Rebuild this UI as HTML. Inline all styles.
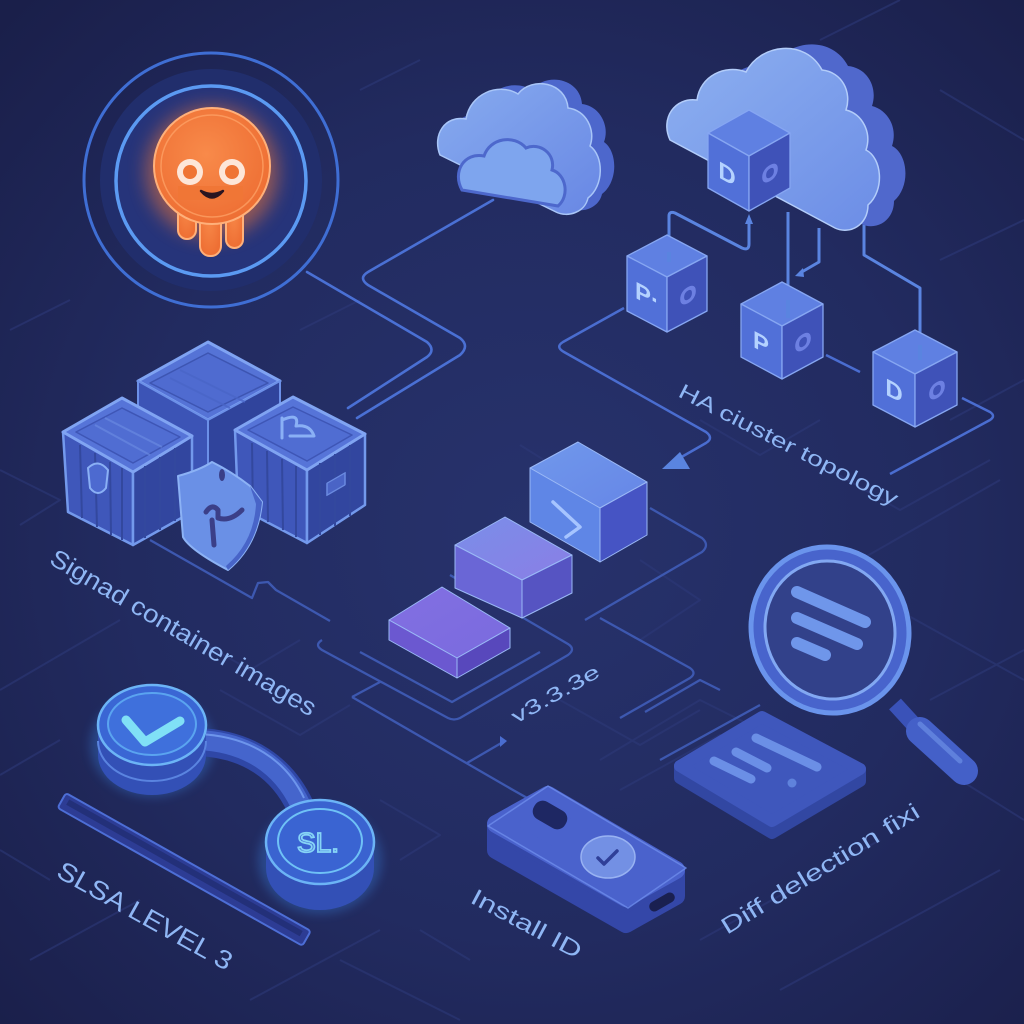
<!DOCTYPE html>
<html><head><meta charset="utf-8"><style>
html,body{margin:0;padding:0;background:#1e2554;}
svg{display:block;}
text{font-family:"Liberation Sans",sans-serif;}
</style></head><body>
<svg width="1024" height="1024" viewBox="0 0 1024 1024" xmlns="http://www.w3.org/2000/svg">
<defs>
<radialGradient id="bg" cx="52%" cy="52%" r="72%">
<stop offset="0" stop-color="#27326c"/>
<stop offset="0.55" stop-color="#222b60"/>
<stop offset="1" stop-color="#1a1f4a"/>
</radialGradient>
<filter id="glow" x="-60%" y="-60%" width="220%" height="220%"><feGaussianBlur stdDeviation="9"/></filter>
<filter id="glow2" x="-60%" y="-60%" width="220%" height="220%"><feGaussianBlur stdDeviation="5"/></filter>
<linearGradient id="cloudBig" x1="0" y1="0" x2="1" y2="1">
<stop offset="0" stop-color="#8db0f0"/><stop offset="1" stop-color="#6c8de6"/>
</linearGradient>
<linearGradient id="cloudSm" x1="0" y1="0" x2="1" y2="1">
<stop offset="0" stop-color="#87abef"/><stop offset="1" stop-color="#6887e4"/>
</linearGradient>
<linearGradient id="stepTop1" x1="0" y1="0" x2="1" y2="1">
<stop offset="0" stop-color="#7098ec"/><stop offset="1" stop-color="#6686e6"/>
</linearGradient>
<linearGradient id="stepTop2" x1="0" y1="0" x2="1" y2="1">
<stop offset="0" stop-color="#7a8ee8"/><stop offset="1" stop-color="#8a7ee6"/>
</linearGradient>
<linearGradient id="stepTop3" x1="0" y1="0" x2="1" y2="1">
<stop offset="0" stop-color="#8270e2"/><stop offset="1" stop-color="#7a6ade"/>
</linearGradient>
<radialGradient id="octo" cx="45%" cy="40%" r="60%">
<stop offset="0" stop-color="#f88a4a"/><stop offset="1" stop-color="#ee6f34"/>
</radialGradient>
</defs>
<rect width="1024" height="1024" fill="url(#bg)"/>

<!-- faint background lines -->
<g stroke="#2d3978" stroke-width="2" fill="none" opacity="0.6" stroke-linejoin="round">
<path d="M0,690 L120,620"/>
<path d="M0,470 L60,500 L20,525"/>
<path d="M10,330 L70,300"/>
<path d="M30,960 L140,900"/>
<path d="M0,850 L50,880"/>
<path d="M340,960 L460,1020"/>
<path d="M250,1000 L380,930"/>
<path d="M600,760 L700,700 L760,730"/>
<path d="M620,790 L720,735 L780,770"/>
<path d="M700,940 L880,840"/>
<path d="M780,990 L1000,870"/>
<path d="M880,600 L1024,680"/>
<path d="M860,560 L1000,480"/>
<path d="M950,420 L1024,380"/>
<path d="M930,700 L1024,650"/>
<path d="M960,780 L1024,820"/>
<path d="M640,560 L700,600 L640,640"/>
<path d="M560,470 L520,445"/>
<path d="M820,40 L900,0"/>
<path d="M940,90 L1024,140"/>
<path d="M940,260 L1024,220"/>
<path d="M360,90 L420,60"/>
<path d="M300,330 L360,300"/>
<path d="M700,420 L760,455 L820,420"/>
<path d="M830,470 L900,510 L990,460"/>
<path d="M560,700 L640,745 L700,710"/>
<path d="M180,630 L250,670 L300,640"/>
<path d="M220,690 L300,735 L350,705"/>
<path d="M60,740 L0,775"/>
<path d="M380,800 L440,835 L400,860"/>
<path d="M420,930 L470,960"/>
</g>

<!-- octopus circle connectors -->
<g stroke="#4a70d4" stroke-width="2.6" fill="none" stroke-linejoin="round" stroke-linecap="round">
<path d="M307,272 L427,342 Q436,350 427,357 L348,408"/>
<path d="M493,200 L368,272 Q358,278 368,285 L460,338 Q470,346 460,355 L357,418"/>
</g>

<!-- cluster connectors -->
<g stroke="#5a84e0" stroke-width="3" fill="none" stroke-linejoin="round">
<path d="M669,252 L669,216 Q669,211 675,213 L742,248 Q749,251 749,244 L749,222"/>
<path d="M788,212 L788,300"/>
<path d="M819,228 L819,262 L800,273"/>
<path d="M864,225 L864,255 L920,288 L920,345"/>
</g>
<path d="M749,214 L745,224 L753,224 Z" fill="#5a84e0"/>
<path d="M795,276 L803,268 L804,277 Z" fill="#5a84e0"/>
<g stroke="#4a6dd0" stroke-width="2.5" fill="none" stroke-linejoin="round">
<path d="M624,308 L563,342 Q555,347 564,352 L706,432 Q714,438 706,443 L678,459"/>
<path d="M962,398 L990,412 Q996,416 990,420 L890,474"/>
<path d="M826,355 L860,372"/>
</g>
<path d="M662,469 L690,469 L680,452 Z" fill="#5a84e0"/>

<!-- lower connectors / platforms -->
<g stroke="#3d58b0" stroke-width="2.3" fill="none" stroke-linejoin="round">
<path d="M150,540 L252,598 L258,583 L268,582 L276,590 L330,621"/>
<path d="M322,640 Q314,645 322,650 L448,718 Q454,721 460,718 L568,655 Q576,649 568,644 L450,575"/>
<path d="M360,652 L452,702 L540,652"/>
<path d="M352,697 L513,790 L545,808"/>
<path d="M352,697 L380,682"/>
<path d="M467,763 L503,742"/>
<path d="M650,508 L702,538 Q710,545 702,552 L585,620"/>
<path d="M600,618 L690,668 Q697,673 690,678 L620,718"/>
<path d="M645,712 L700,680 L720,690"/>
<path d="M660,760 L760,705"/>
</g>
<path d="M500,736 L507,741 L500,747 Z" fill="#4a6dd0"/>

<!-- ============ OCTOPUS RING ============ -->
<circle cx="211" cy="180" r="127" fill="none" stroke="#3f6ed4" stroke-width="3"/>
<circle cx="211" cy="180" r="111" fill="#212e6c"/>
<circle cx="211" cy="181" r="95" fill="#26347a" stroke="#5b9af2" stroke-width="3.5"/>
<!-- octopus -->
<g>
<circle cx="212" cy="172" r="66" fill="#ff7a30" opacity="0.5" filter="url(#glow)"/>
<g fill="url(#octo)" stroke="#ffb07a" stroke-width="2">
<rect x="178" y="185" width="18" height="54" rx="9"/>
<rect x="200" y="190" width="21" height="66" rx="10"/>
<rect x="226" y="185" width="17" height="63" rx="8.5"/>
<circle cx="212" cy="166" r="58"/>
</g>
<path d="M178,200 L178,186 L243,186 L243,200 Z" fill="#f07636"/>
<circle cx="212" cy="166" r="51" fill="none" stroke="#ffa56a" stroke-width="1.5" opacity="0.7"/>
<circle cx="190" cy="172" r="13" fill="#fde6d8"/>
<circle cx="190" cy="172" r="7" fill="#ef7434"/>
<circle cx="232" cy="172" r="13" fill="#fde6d8"/>
<circle cx="232" cy="172" r="7" fill="#ef7434"/>
<path d="M201,191 Q212,204 223,191 Q212,197 201,191 Z" fill="#2a1520" stroke="#2a1520" stroke-width="2.5" stroke-linejoin="round"/>
</g>

<!-- ============ SMALL CLOUD ============ -->
<g transform="translate(14,-4)">
<path d="M440,155 C432,135 445,115 466,119 C470,94 498,82 518,94 C532,76 566,82 568,108 C586,110 596,130 590,146 C604,156 604,186 588,198 C585,212 568,218 556,212 Z" fill="#4d67cc"/>
</g>
<path d="M440,155 C432,135 445,115 466,119 C470,94 498,82 518,94 C532,76 566,82 568,108 C586,110 596,130 590,146 C604,156 604,186 588,198 C585,212 568,218 556,212 Z" fill="url(#cloudSm)" stroke="#a9c6f8" stroke-width="1.5"/>
<path d="M462,190 C452,172 464,152 484,156 C490,138 514,134 526,148 C540,142 556,154 552,170 C566,174 570,196 558,206 Z" fill="#7ea5ee" stroke="#4d68cc" stroke-width="3"/>

<!-- ============ BIG CLOUD ============ -->
<g transform="translate(26,-4)">
<path d="M670,140 C660,118 675,97 697,100 C700,76 725,64 746,72 C760,44 805,38 822,70 C842,72 852,92 846,110 C862,114 872,132 866,150 C882,158 885,190 868,205 C868,225 850,235 835,228 Z" fill="#5068cc"/>
</g>
<path d="M670,140 C660,118 675,97 697,100 C700,76 725,64 746,72 C760,44 805,38 822,70 C842,72 852,92 846,110 C862,114 872,132 866,150 C882,158 885,190 868,205 C868,225 850,235 835,228 Z" fill="url(#cloudBig)" stroke="#b3cdfa" stroke-width="1.5"/>

<!-- ============ PODS ============ -->
<g stroke="#86a6f2" stroke-width="1.3" stroke-linejoin="round">
<polygon points="749,110 790,133 749,156 708,133" fill="#5f80e2"/>
<polygon points="708,133 749,156 749,211 708,188" fill="#5170d8"/>
<polygon points="749,156 790,133 790,188 749,211" fill="#3f52b8"/>
<polygon points="667,235 707,256 667,277 627,256" fill="#5f80e2"/>
<polygon points="627,256 667,277 667,332 627,311" fill="#5170d8"/>
<polygon points="667,277 707,256 707,311 667,332" fill="#3f52b8"/>
<polygon points="782,282 823,304 782,326 741,304" fill="#5f80e2"/>
<polygon points="741,304 782,326 782,379 741,357" fill="#5170d8"/>
<polygon points="782,326 823,304 823,357 782,379" fill="#3f52b8"/>
<polygon points="915,330 957,352 915,374 873,352" fill="#5f80e2"/>
<polygon points="873,352 915,374 915,427 873,405" fill="#5170d8"/>
<polygon points="915,374 957,352 957,405 915,427" fill="#3f52b8"/>
</g>
<g stroke="#5a84e0" stroke-width="4">
<line x1="788" y1="300" x2="788" y2="318"/>
<line x1="920" y1="345" x2="920" y2="360"/>
<line x1="669" y1="252" x2="669" y2="262"/>
</g>
<g font-size="24" font-weight="bold" text-anchor="middle">
<text transform="translate(727,182) skewY(29)" fill="#b4d2ff">D</text>
<text transform="translate(647,304) skewY(28)" fill="#b4d2ff">P·</text>
<text transform="translate(761,351) skewY(28)" fill="#b4d2ff">P</text>
<text transform="translate(894,399) skewY(28)" fill="#b4d2ff">D</text>
</g>
<g font-size="20" text-anchor="middle" fill="none" stroke="#6d80e2" stroke-width="2">
<text transform="translate(770,180) skewY(-29)">O</text>
<text transform="translate(688,302) skewY(-28)">O</text>
<text transform="translate(803,349) skewY(-28)">O</text>
<text transform="translate(937,397) skewY(-28)">O</text>
</g>

<!-- ============ CRATES ============ -->
<g stroke-linejoin="round">
<polygon points="208,342 280,381 208,420 138,381" fill="#5573d6" stroke="#7fa3f2" stroke-width="3"/>
<polygon points="150,383 208,353 268,383 208,412" fill="#4f6bd0" stroke="#3d55b2" stroke-width="1.5"/>
<polygon points="138,381 208,420 208,495 138,456" fill="#3c54b6" stroke="#6c90e8" stroke-width="2"/>
<polygon points="208,420 280,381 280,456 208,495" fill="#30449c" stroke="#6c90e8" stroke-width="2"/>
<g stroke="#4a66c8" stroke-width="2" opacity="0.8">
<line x1="170" y1="378" x2="230" y2="408"/><line x1="180" y1="370" x2="245" y2="402"/>
</g>
<polygon points="63,432 133,472 133,545 68,512" fill="#3f57ba" stroke="#7399ec" stroke-width="2.5"/>
<polygon points="133,472 192,436 192,512 133,545" fill="#32469f" stroke="#7399ec" stroke-width="2.5"/>
<polygon points="122,398 192,436 133,472 63,432" fill="#5674d8" stroke="#80a4f2" stroke-width="3"/>
<polygon points="122,408 180,437 133,463 76,432" fill="#506dd2" stroke="#3e56b6" stroke-width="1.5"/>
<g stroke="#33489e" stroke-width="2">
<line x1="80" y1="445" x2="82" y2="518"/><line x1="95" y1="453" x2="97" y2="527"/><line x1="110" y1="462" x2="111" y2="535"/><line x1="122" y1="468" x2="122" y2="540"/>
<line x1="145" y1="466" x2="145" y2="538"/><line x1="160" y1="457" x2="160" y2="530"/><line x1="175" y1="448" x2="175" y2="521"/>
</g>
<g stroke="#6d8ee4" stroke-width="2" opacity="0.6">
<line x1="95" y1="425" x2="150" y2="455"/><line x1="105" y1="418" x2="162" y2="447"/>
</g>
<path d="M88,468 Q98,458 108,470 L106,488 Q98,498 90,488 Z" fill="#4d6ad0" stroke="#8ab0f5" stroke-width="2"/>
<polygon points="235,430 307,470 307,543 238,507" fill="#3f57ba" stroke="#7399ec" stroke-width="2.5"/>
<polygon points="307,470 365,434 365,505 307,543" fill="#32469f" stroke="#7399ec" stroke-width="2.5"/>
<polygon points="293,397 365,434 307,470 235,430" fill="#5674d8" stroke="#80a4f2" stroke-width="3"/>
<polygon points="293,407 352,435 307,461 248,430" fill="#506dd2" stroke="#3e56b6" stroke-width="1.5"/>
<g stroke="#33489e" stroke-width="2">
<line x1="252" y1="443" x2="253" y2="514"/><line x1="267" y1="451" x2="268" y2="522"/><line x1="282" y1="459" x2="283" y2="530"/><line x1="296" y1="466" x2="296" y2="537"/>
<line x1="320" y1="463" x2="320" y2="535"/><line x1="335" y1="454" x2="335" y2="526"/><line x1="350" y1="445" x2="350" y2="516"/>
</g>
<rect x="327" y="482" width="18" height="12" fill="#4a64c6" stroke="#6a8ae0" stroke-width="1.5" transform="skewY(-30) translate(0,190)"/>
<path d="M282,418 L282,438 M282,420 Q300,412 296,426 Q310,424 314,436 L290,436" fill="none" stroke="#8ab0f5" stroke-width="3" stroke-linecap="round"/>
<path d="M178,476 Q200,470 212,462 Q232,472 250,486 L262,502 Q258,545 228,570 Q190,550 183,537 Z" fill="#6a90e6" stroke="#8cb2f5" stroke-width="2"/>
<path d="M250,486 L262,502 Q258,545 228,570 L226,566 Q254,542 256,504 Z" fill="#4864c8"/>
<ellipse cx="222" cy="475" rx="3" ry="6" fill="#3a3f88"/>
<path d="M206,512 Q212,503 218,510 L218,518 Q230,522 242,510 M212,520 L214,545" fill="none" stroke="#3b3f88" stroke-width="5" stroke-linecap="round"/>
</g>

<!-- ============ STEPS ============ -->
<g stroke-linejoin="round" stroke="#9ab8f6" stroke-width="1">
<polygon points="442,587 510,628 457,658 389,620" fill="url(#stepTop3)"/>
<polygon points="389,620 457,658 457,678 389,640" fill="#6b58d0"/>
<polygon points="457,658 510,628 510,648 457,678" fill="#5848bc"/>
<polygon points="505,517 572,555 522,580 455,545" fill="url(#stepTop2)"/>
<polygon points="455,545 522,580 522,618 455,588" fill="#6a66d6"/>
<polygon points="522,580 572,555 572,593 522,618" fill="#5654c2"/>
<polygon points="578,442 647,482 600,508 530,468" fill="url(#stepTop1)"/>
<polygon points="530,468 600,508 600,562 530,522" fill="#5f86e6"/>
<polygon points="600,508 647,482 647,535 600,562" fill="#4654c4"/>
</g>
<path d="M553,502 L580,527 L566,537" fill="none" stroke="#a6c4ff" stroke-width="3.5" stroke-linecap="round" stroke-linejoin="round"/>

<!-- ============ SLSA ============ -->
<ellipse cx="152" cy="745" rx="62" ry="52" fill="#3c8ff2" opacity="0.3" filter="url(#glow2)"/>
<ellipse cx="320" cy="860" rx="62" ry="54" fill="#3c8ff2" opacity="0.3" filter="url(#glow2)"/>
<g transform="translate(62,800) rotate(29.4)">
<rect x="0" y="-8" width="281" height="17" rx="3" fill="#2d3c94" stroke="#4d6ed6" stroke-width="2"/>
<rect x="6" y="-4" width="268" height="6" fill="#233079"/>
</g>
<path d="M198,742 C248,744 282,768 300,806" fill="none" stroke="#2f47a6" stroke-width="28"/>
<path d="M198,740 C248,742 282,766 300,804" fill="none" stroke="#4565cc" stroke-width="20"/>
<path d="M198,734 C250,736 286,760 304,798" fill="none" stroke="#6d95ec" stroke-width="2"/>
<path d="M98,725 L98,755 A54,40 0 0 0 206,755 L206,725 Z" fill="#3350b6"/>
<path d="M98,741 A54,40 0 0 0 206,741" fill="none" stroke="#5a84e0" stroke-width="2"/>
<ellipse cx="152" cy="725" rx="54" ry="40" fill="#3a66d4" stroke="#6cb4f6" stroke-width="2.5"/>
<ellipse cx="152" cy="724" rx="44" ry="31" fill="#3f70dc" stroke="#5aa4f0" stroke-width="2"/>
<path d="M126,720 L145,742 L180,721" fill="none" stroke="#80e0f6" stroke-width="9" stroke-linecap="round" stroke-linejoin="round"/>
<path d="M266,842 L266,868 A54,42 0 0 0 374,868 L374,842 Z" fill="#3350b6"/>
<ellipse cx="320" cy="842" rx="54" ry="42" fill="#3a63d0" stroke="#6cb4f6" stroke-width="2.5"/>
<ellipse cx="320" cy="841" rx="42" ry="32" fill="#3a64d2" stroke="#6fc2f6" stroke-width="2"/>
<text x="318" y="852" font-size="28" text-anchor="middle" fill="none" stroke="#86d4f6" stroke-width="1.8">SL.</text>

<!-- ============ INSTALL KEY ============ -->
<g stroke-linejoin="round">
<polygon points="496,824 626,898 676,870 676,896 626,924 496,850" fill="#3447a8" stroke="#3447a8" stroke-width="18"/>
<polygon points="496,824 548,795 676,870 626,898" fill="#4a62cc" stroke="#4a62cc" stroke-width="18"/>
<polygon points="488,826 548,786 686,868 628,908" fill="none" stroke="#6d8ceb" stroke-width="1.5" opacity="0.8"/>
</g>
<rect x="-18" y="-10" width="36" height="20" rx="9" transform="translate(550,815) rotate(30)" fill="#1e2763"/>
<ellipse cx="608" cy="857" rx="27" ry="21" fill="#7390e4" stroke="#98b2f2" stroke-width="1.5"/>
<path d="M598,858 L604,864 L617,851" fill="none" stroke="#2f3f98" stroke-width="3.5" stroke-linecap="round" stroke-linejoin="round"/>
<rect x="-14" y="-5" width="28" height="10" rx="5" transform="translate(662,902) rotate(-30)" fill="#1a2050"/>

<!-- ============ DOC TILE ============ -->
<g stroke-linejoin="round">
<polygon points="680,766 772,821 860,769 860,781 772,833 680,778" fill="#3247a2" stroke="#3247a2" stroke-width="12"/>
<polygon points="762,717 860,769 772,821 680,766" fill="#3f57bc" stroke="#3f57bc" stroke-width="12"/>
</g>
<g stroke="#6b8fe6" stroke-width="9" stroke-linecap="round">
<line x1="756" y1="738" x2="817" y2="767"/>
<line x1="736" y1="752" x2="767" y2="768"/>
<line x1="714" y1="761" x2="751" y2="779"/>
</g>
<circle cx="792" cy="783" r="4.5" fill="#5f82dc"/>

<!-- ============ MAGNIFIER ============ -->
<line x1="895" y1="704" x2="916" y2="727" stroke="#3a52b8" stroke-width="16"/>
<line x1="920" y1="731" x2="964" y2="771" stroke="#4460c8" stroke-width="28" stroke-linecap="round"/>
<line x1="920" y1="724" x2="960" y2="761" stroke="#5f80dc" stroke-width="5" stroke-linecap="round"/>
<g transform="translate(830,630) rotate(-18)">
<ellipse rx="81" ry="86" fill="#6a94ec"/>
<ellipse rx="76" ry="81" fill="#4864cc"/>
<ellipse rx="66" ry="71" fill="#82a8f2"/>
<ellipse rx="63" ry="68" fill="#32418a"/>
</g>
<g stroke="#6f96ea" stroke-width="12" stroke-linecap="round">
<line x1="797" y1="592" x2="865" y2="622"/>
<line x1="797" y1="618" x2="857" y2="644"/>
<line x1="797" y1="643" x2="825" y2="655"/>
</g>

<!-- ============ LABELS ============ -->
<g fill="#8fb6f4">
<text transform="translate(48,563) rotate(30.4)" font-size="25" textLength="304" lengthAdjust="spacingAndGlyphs">Signad container images</text>
<text transform="translate(677,396) rotate(27)" font-size="21" textLength="243" lengthAdjust="spacingAndGlyphs">HA ciuster topology</text>
<text transform="translate(516,724) rotate(-29.5)" font-size="20" textLength="98" lengthAdjust="spacingAndGlyphs">v3.3.3e</text>
<text transform="translate(469,902) rotate(28)" font-size="23" textLength="122" lengthAdjust="spacingAndGlyphs">Install ID</text>
<text transform="translate(55,876) rotate(29)" font-size="26" textLength="196" lengthAdjust="spacingAndGlyphs">SLSA LEVEL 3</text>
<text transform="translate(727,935) rotate(-31.5)" font-size="23" textLength="228" lengthAdjust="spacingAndGlyphs">Diff delection fixi</text>
</g>
</svg>
</body></html>
